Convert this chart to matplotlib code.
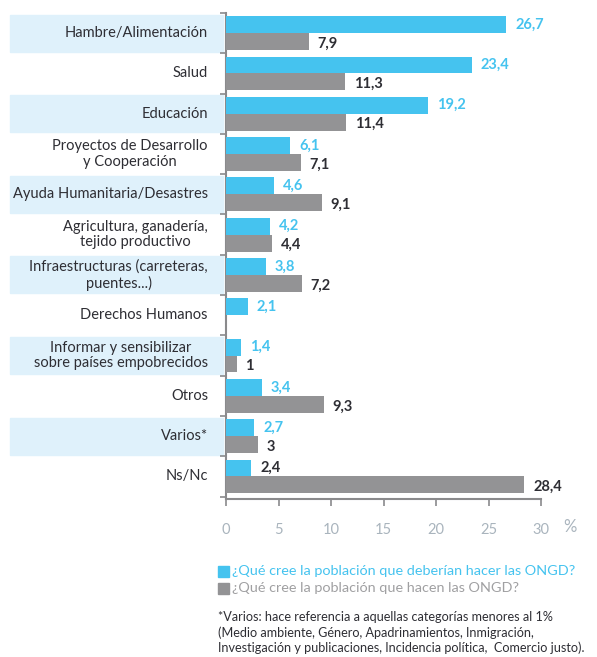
import matplotlib.pyplot as plt
import matplotlib.transforms as mtransforms
from matplotlib.patches import Rectangle

# data
categorias = ["Hambre/Alimentación", "Salud", "Educación",
              "Proyectos de Desarrollo\ny Cooperación",
              "Ayuda Humanitaria/Desastres",
              "Agricultura, ganadería,\ntejido productivo",
              "Infraestructuras (carreteras,\npuentes...)",
              "Derechos Humanos",
              "Informar y sensibilizar\nsobre países empobrecidos",
              "Otros", "Varios*", "Ns/Nc"]
deberian = [26.7, 23.4, 19.2, 6.1, 4.6, 4.2, 3.8, 2.1, 1.4, 3.4, 2.7, 2.4]
hacen = [7.9, 11.3, 11.4, 7.1, 9.1, 4.4, 7.2, None, 1, 9.3, 3, 28.4]
xticks = [0, 5, 10, 15, 20, 25, 30]

leyenda = ["¿Qué cree la población que deberían hacer las ONGD?",
           "¿Qué cree la población que hacen las ONGD?"]
nota = ("*Varios: hace referencia a aquellas categorías menores al 1%\n"
        "(Medio ambiente, Género, Apadrinamientos, Inmigración,\n"
        "Investigación y publicaciones, Incidencia política,  Comercio justo).")

AZUL = "#45c3ef"
GRIS = "#939395"
BANDA = "#dff1fb"
TEXTO = "#2e2e34"
EJE = "#8a8a8c"

plt.rcParams['font.family'] = ['Lato', 'DejaVu Sans']


def fmt(v):
    if v == int(v):
        return str(int(v))
    return ("%.1f" % v).replace('.', ',')


fig = plt.figure(figsize=(5.97, 6.57), dpi=100)
ax = fig.add_axes([226 / 597, 1 - 499 / 657, 315 / 597, 486 / 657])

n = len(categorias)
h = 0.42
for i in range(n):
    y = i
    ax.barh(y - h / 2, deberian[i], height=h, color=AZUL, zorder=3)
    ax.text(deberian[i] + 0.85, y - h / 2, fmt(deberian[i]),
            color=TEXTO if i == n - 1 else AZUL, fontsize=10.5,
            fontweight='bold', va='center', ha='left')
    if hacen[i] is not None:
        ax.barh(y + h / 2, hacen[i], height=h, color=GRIS, zorder=3)
        ax.text(hacen[i] + 0.85, y + h / 2 + 0.05, fmt(hacen[i]),
                color=TEXTO, fontsize=10.5, fontweight='bold',
                va='center', ha='left')

ax.set_ylim(n - 0.5 + 0.06, -0.5)
ax.set_xlim(0, 30)

# alternating bands behind the labels
trans = mtransforms.blended_transform_factory(fig.transFigure, ax.transData)
for i in range(0, n, 2):
    ax.add_patch(Rectangle((10 / 597, i - 0.46), 213 / 597, 0.92,
                           transform=trans, color=BANDA, clip_on=False,
                           zorder=0))
for i, c in enumerate(categorias):
    ax.text(208 / 597, i, c, transform=trans, ha='right', va='center',
            multialignment='center', fontsize=10.5, color=TEXTO,
            linespacing=1.15)

ax.set_yticks([i + 0.5 for i in range(-1, n)])
ax.set_yticklabels([])
ax.tick_params(axis='y', direction='out', length=4, color=EJE, width=1.2)
ax.set_xticks(xticks)
ax.set_xticklabels([str(t) for t in xticks], color="#a9b4bd", fontsize=10.5)
ax.tick_params(axis='x', direction='out', length=5, color=EJE, width=1.2,
               pad=12)
for s in ['top', 'right']:
    ax.spines[s].set_visible(False)
for s in ['left', 'bottom']:
    ax.spines[s].set_color(EJE)
    ax.spines[s].set_linewidth(1.5)
fig.text(563 / 597, 1 - 527 / 657, "%", color="#a9b4bd", fontsize=12,
         va='center', ha='left')

# legend
for j, (txt, col) in enumerate(zip(leyenda, [AZUL, GRIS])):
    yy = 1 - (571 + 17 * j) / 657
    fig.patches.append(Rectangle((218 / 597, yy - 5.5 / 657), 11 / 597,
                                 11 / 657, transform=fig.transFigure,
                                 color=col))
    fig.text(232 / 597, yy, txt, color=col if j == 0 else "#a0a0a2",
             fontsize=10.4, va='center', ha='left')

fig.text(218 / 597, 1 - 611 / 657, nota, color=TEXTO, fontsize=9.1,
         va='top', ha='left', linespacing=1.3)

fig.savefig("out.png", dpi=100)
